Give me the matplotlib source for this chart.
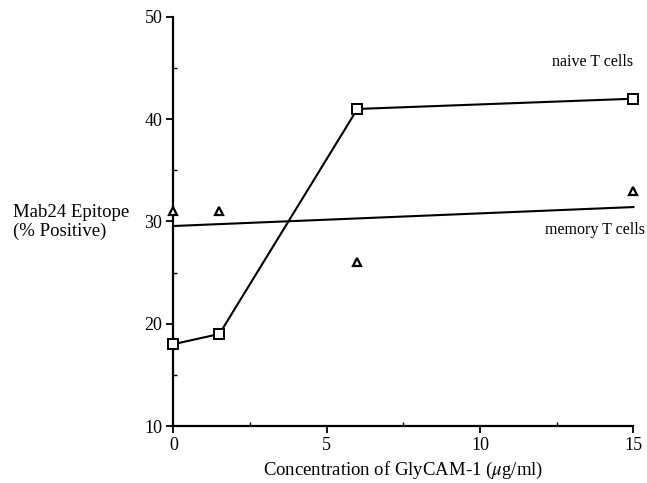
import numpy as np
import matplotlib.pyplot as plt
from matplotlib.ticker import MultipleLocator

# datos
conc = [0, 1.5, 6, 15]
naive = [18, 19, 41, 42]
memory = [31, 31, 26, 33]

plt.rcParams['font.family'] = ['Liberation Serif', 'DejaVu Serif']
plt.rcParams['mathtext.fontset'] = 'stix'

fig = plt.figure(figsize=(6.47, 4.83), dpi=100)
ax = fig.add_axes([0.268, 0.118, 0.711, 0.847])

# naive: linea con cuadrados
ax.plot(conc, naive, color='black', lw=1.5, marker='s', ms=6.5,
        mfc='white', mec='black', mew=1.4, clip_on=False, zorder=3)

# memory: triangulos y recta de regresion
ax.plot(conc, memory, ls='none', marker='^', ms=6, mfc='white',
        mec='black', mew=1.6, clip_on=False, zorder=3)
m, b = np.polyfit(conc, memory, 1)
xr = np.array([conc[0], conc[-1]])
ax.plot(xr, m * xr + b, color='black', lw=1.5, clip_on=False)

ax.text(15, 45.6, 'naive T cells', ha='right', va='center', fontsize=11.5)
ax.text(15.38, 29.2, 'memory T cells', ha='right', va='center', fontsize=11.5)

ax.set_xlim(0, 15)
ax.set_ylim(10, 50)
ax.xaxis.set_major_locator(MultipleLocator(5))
ax.xaxis.set_minor_locator(MultipleLocator(2.5))
ax.yaxis.set_major_locator(MultipleLocator(10))
ax.yaxis.set_minor_locator(MultipleLocator(5))
ax.tick_params(which='major', direction='out', length=5, width=1.3,
               labelsize=13, pad=3)
ax.tick_params(which='minor', direction='in', length=3, width=1)
for s in ['top', 'right']:
    ax.spines[s].set_visible(False)
for s in ['left', 'bottom']:
    ax.spines[s].set_linewidth(1.6)

ax.set_xlabel('Concentration of GlyCAM-1 ($\\mu$g/ml)', fontsize=13.5, labelpad=4)
fig.text(0.02, 0.54, 'Mab24 Epitope\n(% Positive)', ha='left', va='center',
         fontsize=13.5, linespacing=1.15)

fig.savefig('out.png', dpi=100)
